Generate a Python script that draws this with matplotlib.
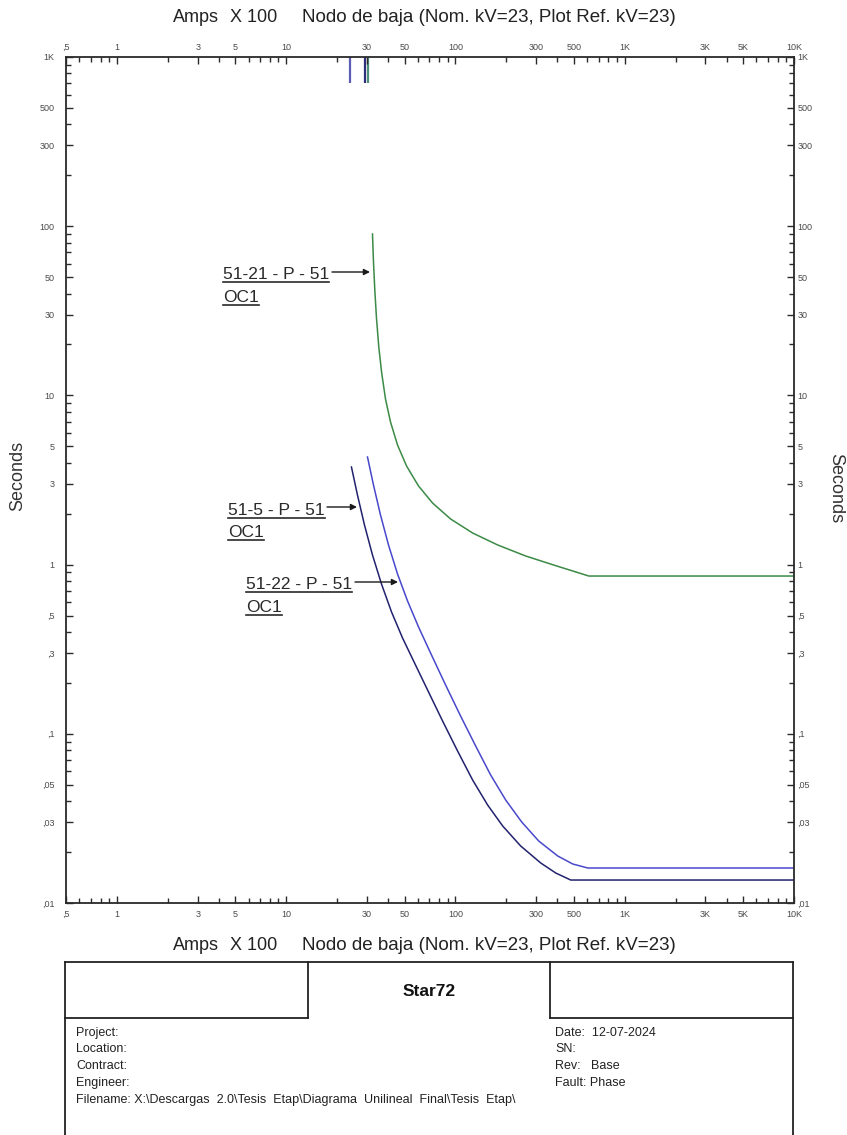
import matplotlib
matplotlib.use("Agg")
import matplotlib.pyplot as plt
from matplotlib.lines import Line2D
from matplotlib.patches import FancyArrowPatch
from matplotlib.ticker import FixedLocator, FixedFormatter, NullFormatter

plt.rcParams["font.family"] = ["Liberation Sans", "DejaVu Sans"]

# ---- relay curves (current in Amps x 100, time in seconds) ----
r51_21_amps = [32.34, 32.78, 33.37, 34.14, 35.23, 36.65, 38.6, 41.33, 45.46, 51.37,
               60.5, 73.2, 93.6, 126.3, 177.6, 260, 396.7, 613.5, 10000]
r51_21_sec = [89.9, 61.4, 41.98, 28.67, 19.32, 13.56, 9.52, 6.96, 5.09, 3.83,
              2.914, 2.312, 1.860, 1.537, 1.306, 1.124, 0.981, 0.856, 0.856]

r51_5_amps = [24.29, 26.36, 29.00, 32.34, 36.55, 41.90, 48.67, 57.31, 68.42, 83.93,
              102.9, 126.3, 154.9, 190.1, 242.8, 318.9, 391.3, 479.8, 10000]
r51_5_sec = [3.774, 2.578, 1.714, 1.139, 0.768, 0.5248, 0.3683, 0.2621, 0.1815, 0.1190,
             0.07912, 0.05330, 0.03794, 0.02851, 0.02172, 0.01724, 0.01504, 0.01367, 0.01367]

r51_22_amps = [30.21, 32.78, 36.06, 40.21, 45.46, 52.10, 60.50, 71.26, 87.42, 107.2,
               131.6, 161.4, 198.0, 246.2, 310.3, 402.1, 493.2, 605.0, 10000]
r51_22_sec = [4.324, 2.953, 1.964, 1.306, 0.8799, 0.6094, 0.4279, 0.3003, 0.1943, 0.1274,
              0.08470, 0.05706, 0.04062, 0.03011, 0.02325, 0.01895, 0.01700, 0.01610, 0.01610]

# pickup markers along the top edge
pickup_amps = [23.7, 29.4, 30.6]
pickup_top = [1000, 1000, 1000]
pickup_bottom = [700, 700, 700]
pickup_colors = ["#5c5cb4", "#2e2e7c", "#4d8f78"]

# ---- axis ticks ----
x_major = [0.5, 1, 3, 5, 10, 30, 50, 100, 300, 500, 1000, 3000, 5000, 10000]
x_labels = [",5", "1", "3", "5", "10", "30", "50", "100", "300", "500", "1K", "3K", "5K", "10K"]
x_minor = [0.6, 0.7, 0.8, 0.9, 2, 4, 6, 7, 8, 9, 20, 40, 60, 70, 80, 90,
           200, 400, 600, 700, 800, 900, 2000, 4000, 6000, 7000, 8000, 9000]
y_major = [0.01, 0.03, 0.05, 0.1, 0.3, 0.5, 1, 3, 5, 10, 30, 50, 100, 300, 500, 1000]
y_labels = [",01", ",03", ",05", ",1", ",3", ",5", "1", "3", "5", "10", "30", "50", "100", "300", "500", "1K"]
y_minor = [0.02, 0.04, 0.06, 0.07, 0.08, 0.09, 0.2, 0.4, 0.6, 0.7, 0.8, 0.9,
           2, 4, 6, 7, 8, 9, 20, 40, 60, 70, 80, 90, 200, 400, 600, 700, 800, 900]

title_parts = ["Amps", "X 100", "Nodo de baja (Nom. kV=23, Plot Ref. kV=23)"]

W, H = 847, 1135


def fx(px):
    return px / W


def fy(py):
    return 1 - py / H


fig = plt.figure(figsize=(W / 100, H / 100), dpi=100)
fig.patch.set_facecolor("white")

ax = fig.add_axes([fx(66), fy(903), fx(794) - fx(66), fy(57) - fy(903)])
ax.set_xscale("log")
ax.set_yscale("log")
ax.set_xlim(0.5, 10000)
ax.set_ylim(0.01, 1000)

spine_col = "#2a2a2a"
tick_col = "#4a4a4a"
for s in ax.spines.values():
    s.set_color(spine_col)
    s.set_linewidth(1.3)


def style_axis(axis, major, labels, minor):
    axis.set_major_locator(FixedLocator(major))
    axis.set_major_formatter(FixedFormatter(labels))
    axis.set_minor_locator(FixedLocator(minor))
    axis.set_minor_formatter(NullFormatter())


def style_ticks(a, pad):
    a.tick_params(which="both", direction="in", color=spine_col, width=1.0,
                  labelsize=6.5, labelcolor=tick_col, pad=pad)
    a.tick_params(which="major", length=5)
    a.tick_params(which="minor", length=3.5)


style_axis(ax.xaxis, x_major, x_labels, x_minor)
style_axis(ax.yaxis, y_major, y_labels, y_minor)
style_ticks(ax, 5)
ax.tick_params(axis="x", bottom=True, top=False, labelbottom=True, pad=5)
ax.tick_params(axis="y", left=True, right=False, labelleft=True, pad=8.5)

# right-hand seconds scale
axr = ax.twinx()
axr.set_yscale("log")
axr.set_ylim(0.01, 1000)
style_axis(axr.yaxis, y_major, y_labels, y_minor)
style_ticks(axr, 2.5)
for s in axr.spines.values():
    s.set_visible(False)

# top current scale
axt = ax.twiny()
axt.set_xscale("log")
axt.set_xlim(0.5, 10000)
style_axis(axt.xaxis, x_major, x_labels, x_minor)
style_ticks(axt, 3.5)
for s in axt.spines.values():
    s.set_visible(False)

# curves
ax.plot(r51_21_amps, r51_21_sec, color="#3b8a45", lw=1.1, solid_joinstyle="round")
ax.plot(r51_5_amps, r51_5_sec, color="#22226e", lw=1.1, solid_joinstyle="round")
ax.plot(r51_22_amps, r51_22_sec, color="#4848cc", lw=1.1, solid_joinstyle="round")
ax.vlines(pickup_amps, pickup_bottom, pickup_top, colors=pickup_colors, lw=1.6)

# axis titles (top and bottom)
title_x = [173, 230, 302]
title_size = [13, 13, 13.5]
for ty in (17, 946):
    for part, px, sz in zip(title_parts, title_x, title_size):
        fig.text(fx(px), fy(ty), part, ha="left", va="center", fontsize=sz, color="#222222")

fig.text(fx(18), fy(476), "Seconds", rotation=90, ha="center", va="center",
         fontsize=13, color="#333333")
fig.text(fx(836), fy(488), "Seconds", rotation=-90, ha="center", va="center",
         fontsize=13, color="#333333")

# relay labels with arrows
labels = [
    ("51-21 - P - 51", 223, 279, 302, (332, 272), (370, 272)),
    ("51-5 - P - 51", 228, 515, 537, (327, 507), (357, 507)),
    ("51-22 - P - 51", 246, 589, 612, (355, 582), (398, 582)),
]
label_texts = []
for name, lx, y1, y2, a0, a1 in labels:
    t1 = fig.text(fx(lx), fy(y1), name, ha="left", va="baseline", fontsize=12.5, color="#2a2a2a")
    t2 = fig.text(fx(lx), fy(y2), "OC1", ha="left", va="baseline", fontsize=12.5, color="#2a2a2a")
    label_texts += [t1, t2]
    fig.add_artist(FancyArrowPatch(
        (fx(a0[0]), fy(a0[1])), (fx(a1[0]), fy(a1[1])), transform=fig.transFigure,
        arrowstyle="-|>", mutation_scale=9, lw=1.0, color="#1a1a1a",
        shrinkA=0, shrinkB=0))

fig.canvas.draw()
renderer = fig.canvas.get_renderer()
for t in label_texts:
    bb = t.get_window_extent(renderer)
    base = t.get_position()[1]
    y_line = base - 2.5 / H
    fig.add_artist(Line2D([bb.x0 / W, bb.x1 / W], [y_line, y_line],
                          transform=fig.transFigure, color="#2a2a2a", lw=1.2))

# title block
blk = "#222222"
block_lines = [
    ((65, 793), (962, 962)),
    ((65, 65), (962, 1135)),
    ((793, 793), (962, 1135)),
    ((308, 308), (962, 1018)),
    ((65, 308), (1018, 1018)),
    ((550, 550), (962, 1018)),
    ((550, 793), (1018, 1018)),
]
for xs, ys in block_lines:
    fig.add_artist(Line2D([fx(xs[0]), fx(xs[1])], [fy(ys[0]), fy(ys[1])],
                          transform=fig.transFigure, color=blk, lw=1.3))

fig.text(fx(429), fy(992), "Star72", ha="center", va="center", fontsize=12.5,
         fontweight="bold", color="#111111")

left_info = ["Project:", "Location:", "Contract:", "Engineer:",
             "Filename: X:\\Descargas  2.0\\Tesis  Etap\\Diagrama  Unilineal  Final\\Tesis  Etap\\"]
right_info = ["Date:  12-07-2024", "SN:", "Rev:   Base", "Fault: Phase"]
info_rows = [1033, 1049, 1066, 1083, 1100]
for txt, row in zip(left_info, info_rows):
    fig.text(fx(76), fy(row), txt, ha="left", va="center", fontsize=9, color="#222222")
for txt, row in zip(right_info, info_rows):
    fig.text(fx(555), fy(row), txt, ha="left", va="center", fontsize=9, color="#222222")

fig.savefig("out.png", dpi=100, facecolor="white")
